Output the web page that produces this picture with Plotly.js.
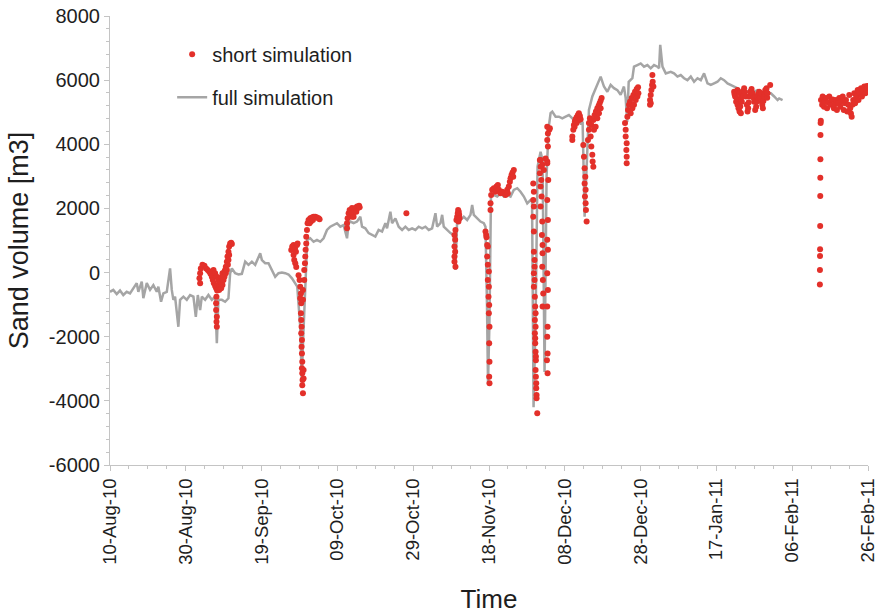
<!DOCTYPE html>
<html>
<head>
<meta charset="utf-8">
<script src="https://cdn.plot.ly/plotly-3.0.1.min.js"></script>
<style>
  html, body { margin: 0; padding: 0; background: #ffffff; }
  #chart { width: 884px; height: 614px; }
</style>
</head>
<body>
<div id="chart"></div>
<script>
// Simulation time is given in days since the start of the record (10-Aug-2010).
const startDate = '2010-08-10';
const endDate = '2011-02-26';

// Full simulation: continuous run
const fullDays = [
  0.00, 0.87, 1.77, 2.64, 3.51, 4.41, 5.28, 6.16, 7.05, 7.48, 8.38, 8.80, 9.70, 10.57, 11.44, 12.34,
  12.76, 13.47, 14.08, 14.98, 15.85, 16.30, 16.72, 17.17, 18.04, 18.49, 19.37, 20.26, 21.14, 22.01,
  22.64, 23.17, 23.78, 24.23, 25.10, 25.97, 26.87, 27.74, 28.19, 28.61, 29.51, 30.38, 31.25, 31.70,
  32.15, 33.02, 33.90, 34.79, 35.67, 36.54, 37.44, 38.31, 39.18, 39.63, 40.08, 40.95, 41.82, 42.72,
  43.59, 44.46, 45.36, 46.24, 47.11, 48.01, 48.88, 49.41, 50.20, 50.59, 50.99, 51.52, 52.05, 52.83,
  53.71, 54.61, 55.48, 56.35, 57.25, 58.12, 59.00, 59.89, 60.77, 61.64, 62.54, 62.96, 63.41, 64.28,
  65.18, 66.05, 66.50, 67.37, 68.24, 69.14, 70.01, 70.88, 71.78, 72.66, 73.10, 73.98, 74.42, 75.30,
  76.17, 77.07, 77.94, 78.81, 79.71, 80.58, 81.45, 82.35, 83.22, 84.10, 84.99, 85.87, 86.31, 87.19,
  87.64, 88.06, 88.96, 89.83, 90.70, 91.15, 91.60, 92.47, 93.34, 94.24, 95.11, 95.56, 95.99, 96.88,
  97.75, 98.63, 99.07, 99.47, 99.74, 100.13, 100.53, 101.19, 102.17, 103.04, 103.91, 104.81, 105.68,
  106.55, 107.45, 108.32, 109.20, 110.09, 110.96, 111.36, 111.76, 112.29, 112.81, 113.61, 114.13,
  114.66, 115.19, 115.72, 116.25, 116.70, 117.57, 118.44, 119.34, 120.21, 121.08, 121.53, 122.40,
  123.30, 123.72, 124.17, 124.70, 125.23, 125.76, 126.37, 127.26, 128.14, 129.01, 129.46, 130.33,
  131.22, 132.10, 132.97, 133.87, 134.74, 135.61, 136.06, 136.46, 136.86, 137.83, 138.26, 139.15,
  140.03, 140.90, 141.80, 142.67, 143.54, 144.44, 144.87, 145.18, 145.77, 146.64, 147.95, 148.82,
  149.72, 150.59, 151.47, 152.36, 153.24, 154.11, 155.01, 155.88, 156.75, 157.65, 158.52, 159.39,
  160.29, 161.16, 162.03, 162.93, 163.80, 164.68, 165.57, 166.45, 167.32, 168.22, 169.09, 169.96,
  170.86, 171.73, 172.60, 173.50, 174.37, 175.24, 176.14, 176.56, 177.46
];
const fullVolume = [
  -600, -540, -670, -560, -700, -600, -650, -490, -330, -600, -280, -800, -330, -540, -390, -600,
  -440, -910, -650, -600, 130, -540, -850, -750, -1690, -850, -750, -850, -700, -750,
  -1380, -700, -1170, -750, -850, -700, -850, -750, -2200, -850, -850, -910, -800, -20,
  130, -20, -60, -40, 340, 240, 340, 240, 500, 600, 390, 290, 290, 80,
  -130, -20, 0, -20, -60, -180, -330, -440, -1700, -3350, -2000, -600, 1020, 1070,
  960, 1020, 960, 1070, 1330, 1430, 1480, 1540, 1430, 1480, 1070, 1540, 1590, 1540,
  1590, 1740, 1430, 1380, 1230, 1170, 1120, 1330, 1280, 1540, 1380, 1900, 1540, 1690,
  1430, 1330, 1430, 1330, 1380, 1330, 1430, 1380, 1430, 1330, 1380, 1850, 1430, 1540,
  1800, 1430, 1330, 1230, 1170, 80, 1640, 1640, 1740, 1640, 1800, 2110, 1800, 1690,
  1590, 1540, 1430, -1000, -3450, -1500, 2470, 2420, 2370, 2470, 2370, 2420, 2370,
  2580, 2630, 2520, 2370, 2160, 2260, 2260, -4200, -1500, 3300, 3770, 3500,
  -3100, 3000, 4500, 4970, 5020, 4860, 4860, 4810, 4860, 4910, 4860, 4760,
  4710, 4760, 4660, 4700, 1740, 3500, 5070, 5490, 5750, 6000, 6110, 5800,
  5640, 5850, 5750, 5690, 5540, 5800, 5440, 4700, 5950, 6060, 6420, 6470,
  6520, 6420, 6470, 6370, 6470, 6420, 6370, 7100, 6420, 6210, 6260, 6210,
  6110, 6160, 6060, 6000, 6110, 5950, 6060, 6000, 6210, 5900, 5850, 5900,
  5950, 6060, 6000, 5900, 5850, 5800, 5750, 5640, 5690, 5640, 5590, 5640,
  5690, 5640, 5590, 5590, 5590, 5490, 5380, 5430, 5380
];

// Short simulations: separate runs, each restarted from the measured state
const run1Days = [23.60, 23.78, 23.78, 23.96, 24.39, 24.92, 25.36, 25.80, 26.16, 26.51, 26.87, 27.13, 27.31, 27.40,
  27.74, 27.74, 28.00, 28.00, 28.01, 28.09, 28.10, 28.19, 28.19, 28.19, 28.27, 28.45, 28.61, 28.61, 28.80,
  28.80, 29.06, 29.06, 29.33, 29.33, 29.51, 29.51, 29.68, 29.68, 29.94, 29.94, 30.20, 30.20, 30.38, 30.56,
  30.56, 30.83, 30.83, 31.00, 31.10, 31.25, 31.25, 31.44, 31.44, 31.70, 31.97, 32.15];
const run1Volume = [-180, -330, -20, 130, 240, 210, 130, 80, 30, -40, -130, -230, 80, -330,
  -420, -20, -960, -1170, -490, -750, -1530, -1380, -1690, -130, -560, -390, -490, -230, -390,
  -540, -280, -440, -230, -490, -130, -330, -20, -390, -80, -230, 30, -130, 80, 180,
  -20, 340, 80, 500, 240, 650, 390, 810, 550, 910, 930, 890];

const run2Days = [47.82, 48.08, 48.43, 48.43, 48.61, 48.80, 48.88, 49.06, 49.14, 49.32, 49.49, 49.75, 50.02,
  50.20, 50.20, 50.38, 50.38, 50.46, 50.46, 50.46, 50.55, 50.55, 50.64, 50.64, 50.64, 50.73, 50.73, 50.73,
  50.81, 50.91, 50.91, 50.91, 51.08, 51.08, 51.25, 51.25, 51.44, 51.52, 51.61, 51.78, 51.78, 51.97, 52.13,
  52.39, 52.66, 52.84, 53.02, 53.28, 53.55, 53.71, 54.16, 54.61, 55.03, 55.30];
const run2Volume = [700, 810, 860, 550, 390, 760, 290, 650, 170, 860, 910, -80, -230,
  -440, -800, -650, -1270, -960, -1480, -1890, -1690, -2310, -2100, -2520, -2980, -2780, -3140, -3510,
  -3350, -3760, -540, -850, -3300, -3040, -230, 80, 290, 500, 710, 910, 1120, 1330, 1540,
  1640, 1540, 1690, 1590, 1720, 1640, 1740, 1740, 1720, 1690, 1660];

const run3Days = [62.54, 62.54, 62.69, 62.96, 63.23, 63.41, 63.59, 63.86, 63.86, 64.12, 64.28, 64.46, 64.73,
  64.99, 65.18, 65.44, 65.71, 65.87, 78.20];
const run3Volume = [1380, 1540, 1690, 1850, 1950, 1800, 1900, 2010, 1740, 1850, 1740, 1900, 2010,
  1900, 2060, 2010, 2080, 2040, 1850];

const run4Days = [90.89, 90.89, 90.89, 90.89, 91.07, 91.07, 91.15, 91.15, 91.41, 91.60, 91.76, 91.86, 91.94,
  92.02, 92.13, 92.21];
const run4Volume = [340, 500, 810, 1170, 650, 1020, 180, 1330, 1640, 1740, 1850, 1950, 1590,
  1900, 1800, 1690];

const run5Days = [99.07, 99.25, 99.34, 99.52, 99.52, 99.69, 99.69, 99.69, 99.87, 99.96, 99.96, 99.96, 100.05,
  100.05, 100.05, 100.13, 100.13, 100.13, 100.40, 100.40, 100.57, 100.84, 101.27, 101.72, 101.98, 102.34,
  102.60, 103.04, 103.49, 103.91, 104.36, 104.81, 104.97, 105.23, 105.50, 105.68, 105.94, 106.21, 106.39,
  106.55];
const run5Volume = [1280, 1170, 1100, 860, 500, 810, 240, -230, -750, 30, -440, -1270, -1010,
  -2200, -3250, -1690, -2780, -3450, 1950, 2160, 2420, 2580, 2630, 2520, 2680, 2730,
  2580, 2470, 2520, 2470, 2420, 2580, 2470, 2680, 2830, 2940, 3040, 3120, 2990,
  3200];

const run6Days = [111.67, 111.67, 111.67, 111.84, 111.84, 111.84, 111.84, 111.84, 111.84, 112.02, 112.02,
  112.02, 112.10, 112.10, 112.10, 112.19, 112.19, 112.19, 112.29, 112.29, 112.29, 112.29, 112.37, 112.37,
  112.37, 112.46, 112.46, 112.55, 112.55, 112.73, 113.42, 113.42, 113.61, 113.61, 113.61, 113.61, 113.79,
  113.87, 113.96, 114.05, 114.05, 114.05, 114.13, 114.13, 114.13, 114.22, 114.31, 114.48, 114.93, 115.28,
  115.37, 115.37, 115.37, 115.37, 115.37, 115.37, 115.37, 115.37, 115.37, 115.46, 115.46, 115.46, 115.54,
  115.54, 115.54, 115.54, 115.54, 115.63, 115.90, 116.06];
const run6Volume = [2780, 2260, 1740, 2520, 2060, 1280, 650, -20, -440, 390, 180,
  -230, -750, -1480, -1890, -1060, -2050, -2200, -1270, -1690, -2470, -3040, -2620, -2730,
  -3250, -3450, -3610, -3820, -3920, -4390, 3510, 3100, 3300, 2680, 2060, 3510, 2890,
  2370, 1170, 1590, 180, 3360, 860, 600, -1060, -230, -650, 3200, 3560, -2730,
  4550, 4130, 3460, 3410, 2260, 1020, -20, -1060, -2000, -1690, -2520, -3140, 4340,
  3930, 1640, 710, -540, 2890, 4450, 4500];

const run7Days = [121.98, 121.98, 122.24, 122.40, 122.59, 122.66, 122.85, 123.12, 123.12, 123.46, 123.72,
  123.72, 123.99, 124.17];
const run7Volume = [4130, 4240, 4450, 4600, 4550, 4710, 4780, 4840, 4660, 4910, 4970,
  4760, 4880, 4780];

const run8Days = [124.88, 125.05, 125.23, 125.23, 125.32, 125.41, 125.49, 125.49, 125.58, 125.76, 126.11,
  126.37, 126.37, 126.63, 126.82, 127.00, 127.00, 127.26, 127.34, 127.53, 127.53, 127.70, 127.87, 128.14,
  128.22, 128.58, 128.58, 128.93, 129.01, 129.19, 129.46, 129.46, 129.72];
const run8Volume = [3980, 3610, 3250, 2780, 2370, 2990, 2580, 2160, 1950, 1590, 4130,
  4450, 4660, 4810, 4240, 4600, 3930, 3670, 3460, 3300, 4760, 4450, 4910, 4550,
  5020, 5120, 4810, 5200, 4970, 5280, 5360, 5120, 5440];

const run9Days = [135.89, 136.06, 136.06, 136.24, 136.33, 136.33, 136.33, 136.51, 136.68, 136.94, 137.20,
  137.38, 137.65, 137.83, 138.10, 138.26, 138.53, 138.71, 138.97, 139.15, 139.33, 139.42];
const run9Volume = [4660, 4450, 4240, 3820, 4030, 3610, 3410, 4860, 5070, 5230, 5330,
  4970, 5440, 5120, 5540, 5230, 5640, 5380, 5720, 5490, 5780, 5590];

const run10Days = [142.49, 142.49, 142.67, 142.67, 142.85, 143.02, 143.11, 143.19, 143.37];
const run10Volume = [5380, 5230, 5540, 5280, 5690, 5850, 6160, 5950, 5800];

const run11Days = [164.68, 164.80, 164.94, 165.20, 165.40, 165.57, 165.57, 165.83, 166.10, 166.16, 166.30,
  166.45, 166.45, 166.71, 166.89, 167.10, 167.32, 167.50, 167.77, 168.03, 168.22, 168.38, 168.50, 168.65,
  168.91, 169.10, 169.28, 169.55, 169.80, 169.96, 170.23, 170.49, 170.60, 170.86, 171.00, 171.28, 171.50,
  171.73, 171.99, 172.10, 172.26, 172.40, 172.60, 172.80, 172.87, 173.10, 173.23, 173.40, 173.50, 174.19];
const run11Volume = [5640, 5560, 5490, 5330, 5420, 5230, 5690, 5120, 5020, 5590, 5180,
  4970, 5440, 5330, 5640, 5500, 5750, 5620, 5490, 5230, 5020, 5120, 5300, 5490,
  5640, 5500, 5720, 5590, 5450, 5330, 5070, 5170, 5330, 5490, 5560, 5640, 5450,
  5590, 5330, 5230, 5120, 5350, 5490, 5570, 5690, 5650, 5750, 5450, 5590, 5850];

const run12Days = [187.30, 187.32, 187.34, 187.36, 187.38, 187.40, 187.42, 187.44, 187.46, 187.50, 187.55,
  187.60, 187.90, 188.03, 188.40, 188.60, 188.90, 189.20, 189.50, 189.78, 190.10, 190.40, 190.67, 191.00,
  191.30, 191.55, 191.80, 192.10, 192.42, 192.70, 193.00, 193.32, 193.60, 193.90, 194.19, 194.50, 194.80,
  195.06, 195.30, 195.50, 195.69, 195.90, 196.10, 196.38, 196.60, 196.90, 197.28, 197.50, 197.80, 198.15,
  198.40, 198.70, 199.02, 199.30, 199.50, 199.74, 199.90];
const run12Volume = [-370, 80, 520, 730, 1450, 2390, 2960, 3530, 4290, 4660, 4730,
  5380, 5230, 5490, 5170, 5330, 5440, 5120, 5300, 5490, 5230, 5380, 5400, 5120,
  5250, 5380, 5070, 5280, 5440, 5170, 5330, 5490, 5070, 5280, 5380, 5020, 5230,
  5540, 5120, 4960, 4860, 5230, 5380, 5590, 5280, 5490, 5690, 5380, 5590, 5750,
  5490, 5650, 5800, 5590, 5720, 5820, 5760];

const yTickValues = [-6000, -4000, -2000, 0, 2000, 4000, 6000, 8000];

const shortRuns = [
  [run1Days, run1Volume], [run2Days, run2Volume], [run3Days, run3Volume], [run4Days, run4Volume],
  [run5Days, run5Volume], [run6Days, run6Volume], [run7Days, run7Volume], [run8Days, run8Volume],
  [run9Days, run9Volume], [run10Days, run10Volume], [run11Days, run11Volume], [run12Days, run12Volume]
];

const DAY_MS = 86400000;
const t0 = Date.parse(startDate + 'T00:00:00Z');
function dayToDate(d) {
  return new Date(t0 + d * DAY_MS).toISOString().slice(0, 19).replace('T', ' ');
}

const shortX = [];
const shortY = [];
shortRuns.forEach(function (run) {
  run[0].forEach(function (d, i) {
    shortX.push(dayToDate(d));
    shortY.push(run[1][i]);
  });
});

const fullTrace = {
  type: 'scatter',
  mode: 'lines',
  name: 'full simulation',
  legendgroup: 'full',
  legendrank: 2,
  x: fullDays.map(dayToDate),
  y: fullVolume,
  line: { color: '#a5a5a5', width: 2.5 },
  hoverinfo: 'skip'
};

const shortTrace = {
  type: 'scatter',
  mode: 'markers',
  name: 'short simulation',
  legendgroup: 'short',
  legendrank: 1,
  x: shortX,
  y: shortY,
  marker: { color: '#e3302a', size: 6 },
  hoverinfo: 'skip'
};

const axisGrey = '#c4c4c4';
const textColor = '#1e1e1e';

const layout = {
  width: 884,
  height: 614,
  margin: { l: 110, r: 16, t: 16, b: 149 },
  paper_bgcolor: '#ffffff',
  plot_bgcolor: '#ffffff',
  font: { family: 'Liberation Sans, Arial, sans-serif', color: textColor },
  showlegend: true,
  legend: {
    x: 0.082, y: 0.958, xanchor: 'left', yanchor: 'top',
    bgcolor: 'rgba(0,0,0,0)',
    font: { size: 20, color: textColor },
    traceorder: 'grouped',
    tracegroupgap: 14
  },
  xaxis: {
    type: 'date',
    range: [startDate, endDate],
    tickmode: 'linear',
    tick0: startDate,
    dtick: 20 * DAY_MS,
    tickformat: '%d-%b-%y',
    tickangle: -90,
    tickfont: { size: 18.5, color: textColor },
    ticks: 'outside',
    ticklen: 5,
    tickcolor: axisGrey,
    showline: true,
    linecolor: axisGrey,
    linewidth: 1,
    showgrid: false,
    zeroline: false,
    minor: { dtick: 5 * DAY_MS, tick0: startDate, ticks: 'outside', ticklen: 3, tickcolor: axisGrey, showgrid: false },
    title: { text: 'Time', font: { size: 26, color: textColor }, standoff: 25 },
    fixedrange: true
  },
  yaxis: {
    range: [-6000, 8000],
    tickmode: 'array',
    tickvals: yTickValues,
    ticktext: yTickValues.map(String),
    tickfont: { size: 20, color: textColor },
    ticks: 'outside',
    ticklen: 5,
    tickcolor: axisGrey,
    showline: true,
    linecolor: axisGrey,
    linewidth: 1,
    showgrid: false,
    zeroline: false,
    minor: { tickmode: 'linear', tick0: -6000, dtick: 400, ticks: 'outside', ticklen: 3, tickcolor: axisGrey, showgrid: false },
    title: { text: 'Sand volume [m3]', font: { size: 27, color: textColor }, standoff: 12 },
    fixedrange: true
  }
};

Plotly.newPlot('chart', [fullTrace, shortTrace], layout, { staticPlot: true, displayModeBar: false });
</script>
</body>
</html>
